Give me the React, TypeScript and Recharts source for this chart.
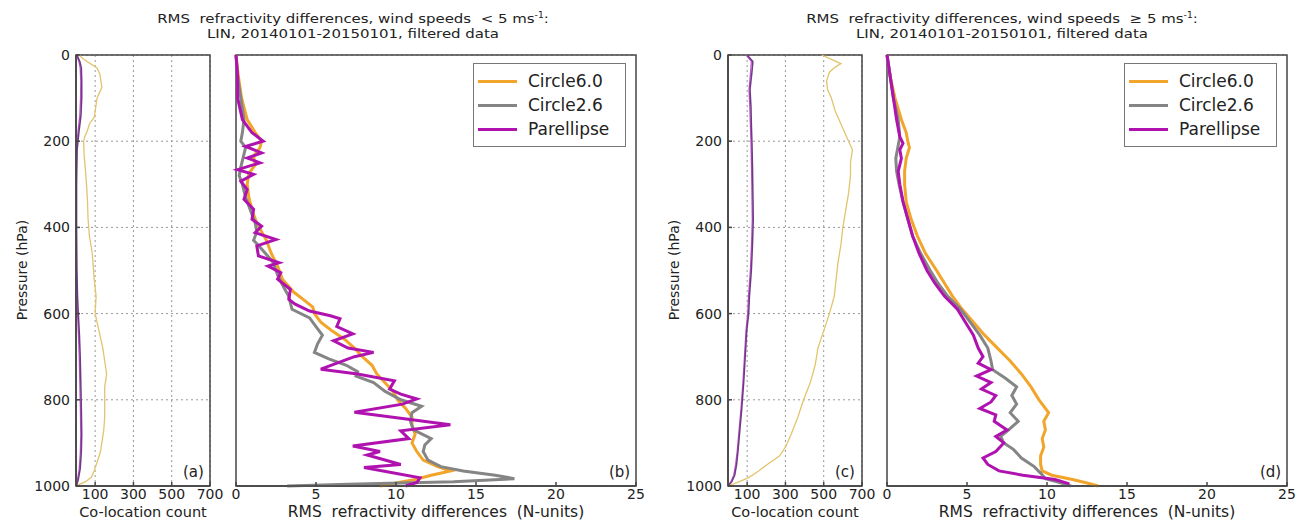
import { CartesianGrid, Line, LineChart, ReferenceArea, XAxis, YAxis } from "recharts";

type Pt = [number, number]; // [pressure hPa, value]

const pressureTicks = [0, 200, 400, 600, 800, 1000];
const countTicks = [100, 300, 500, 700];
const rmsTicks = [0, 5, 10, 15, 20, 25];
const seriesNames = ["Circle6.0", "Circle2.6", "Parellipse"];

// (a) co-location counts, wind < 5
const countLowAll: Pt[] = [
  [0, 15], [10, 40], [20, 75], [30, 110], [45, 125], [60, 130], [75, 135], [85, 125], [100, 110],
  [115, 105], [130, 100], [145, 95], [160, 70], [175, 60], [190, 45], [200, 40], [230, 42], [260, 48],
  [300, 55], [340, 60], [380, 63], [420, 70], [460, 85], [490, 90], [520, 95], [560, 105], [600, 100],
  [640, 120], [680, 140], [710, 150], [740, 160], [770, 150], [800, 150], [840, 150], [870, 145],
  [900, 135], [920, 128], [945, 110], [965, 95], [980, 80], [990, 50], [997, 15], [1000, 0],
];
const countLowDark: Pt[] = [
  [0, 5], [15, 20], [30, 28], [60, 30], [100, 30], [140, 26], [180, 15], [220, 6], [300, 3], [400, 3],
  [500, 5], [560, 8], [600, 12], [650, 18], [700, 22], [760, 25], [820, 28], [880, 30], [920, 28],
  [960, 22], [985, 12], [1000, 2],
];
const countLowPar: Pt[] = [
  [0, 3], [15, 15], [30, 22], [60, 25], [100, 24], [140, 20], [180, 10], [220, 3], [300, 1], [400, 1],
  [500, 2], [560, 5], [600, 8], [650, 13], [700, 17], [760, 20], [820, 23], [880, 25], [920, 23],
  [960, 17], [985, 8], [1000, 1],
];

// (c) co-location counts, wind >= 5
const countHighAll: Pt[] = [
  [0, 490], [10, 540], [20, 590], [28, 560], [40, 530], [60, 515], [80, 520], [100, 540], [130, 560],
  [160, 590], [190, 620], [220, 650], [250, 640], [280, 640], [320, 630], [360, 615], [400, 600],
  [440, 590], [480, 575], [520, 565], [560, 555], [600, 530], [640, 500], [680, 470], [720, 455],
  [760, 430], [800, 395], [840, 365], [880, 330], [910, 300], [930, 270], [950, 205], [965, 160],
  [980, 110], [990, 60], [1000, 0],
];
const countHighDark: Pt[] = [
  [0, 100], [15, 130], [40, 125], [80, 115], [120, 120], [160, 122], [200, 125], [260, 128], [320, 130],
  [380, 132], [440, 128], [500, 122], [560, 112], [600, 108], [640, 98], [700, 90], [760, 82],
  [820, 72], [880, 60], [920, 52], [950, 45], [975, 35], [990, 20], [1000, 0],
];
const countHighPar: Pt[] = [
  [0, 95], [15, 122], [40, 118], [80, 110], [120, 114], [160, 117], [200, 120], [260, 123], [320, 125],
  [380, 127], [440, 123], [500, 117], [560, 107], [600, 103], [640, 94], [700, 86], [760, 78],
  [820, 68], [880, 56], [920, 48], [950, 40], [975, 30], [990, 15], [1000, 0],
];

// (b) RMS differences, wind < 5
const circle60Low: Pt[] = [
  [0, 0], [50, 0.15], [100, 0.35], [150, 0.7], [180, 1.2], [200, 1.6], [215, 1.5], [235, 1.1], [255, 1.2],
  [275, 0.8], [300, 0.7], [330, 0.8], [360, 1.0], [390, 1.3], [410, 1.6], [430, 1.9], [460, 2.2],
  [490, 2.6], [520, 2.9], [550, 3.6], [570, 4.3], [585, 4.8], [600, 4.9], [620, 5.3], [640, 6.0],
  [660, 6.8], [680, 7.4], [700, 7.9], [720, 8.5], [740, 8.8], [760, 9.3], [780, 9.8], [800, 10.1],
  [820, 10.6], [840, 11.0], [860, 11.0], [880, 11.2], [900, 11.0], [920, 11.3], [940, 11.7],
  [955, 12.6], [965, 13.4], [975, 12.2], [985, 11.2], [993, 10.0], [1000, 9.0],
];
const circle26Low: Pt[] = [
  [0, 0], [50, 0.1], [100, 0.3], [150, 0.5], [180, 0.4], [200, 0.3], [215, 0.6], [230, 0.5], [260, 0.3],
  [280, 0.2], [300, 0.4], [330, 0.6], [360, 0.9], [390, 1.2], [410, 1.3], [430, 1.1], [450, 1.6],
  [480, 2.3], [510, 2.6], [540, 3.0], [560, 3.3], [590, 3.5], [610, 4.6], [630, 5.0], [650, 5.4],
  [670, 5.1], [690, 4.9], [705, 5.8], [720, 6.9], [735, 7.6], [745, 7.5], [760, 8.6], [780, 9.3],
  [800, 10.3], [815, 11.6], [830, 11.0], [850, 10.9], [870, 11.1], [890, 12.2], [905, 11.8],
  [920, 11.7], [940, 12.0], [955, 12.8], [965, 14.2], [975, 16.2], [983, 17.4], [990, 13.6],
  [996, 7.0], [1000, 3.2],
];
const parellipseLow: Pt[] = [
  [0, 0], [50, 0.1], [100, 0.1], [150, 0.4], [180, 1.0], [200, 1.7], [212, 0.6], [227, 1.6], [239, 0.7],
  [250, 1.5], [266, 0.1], [277, 1.1], [293, 0.3], [312, 0.7], [335, 0.5], [358, 1.1], [381, 1.0],
  [397, 1.6], [412, 1.2], [428, 2.5], [443, 1.3], [466, 1.4], [482, 2.7], [490, 2.0], [505, 2.8],
  [520, 2.6], [544, 3.4], [567, 3.3], [578, 3.7], [594, 4.6], [605, 5.9], [612, 6.5], [630, 6.3],
  [647, 7.3], [663, 6.1], [680, 7.0], [690, 8.6], [700, 7.4], [729, 5.3], [740, 7.6], [756, 9.9],
  [775, 9.6], [787, 10.3], [798, 11.3], [810, 10.4], [829, 7.4], [858, 13.4], [872, 10.3],
  [890, 10.8], [907, 7.3], [920, 9.0], [928, 8.2], [950, 10.3], [957, 8.0], [981, 11.5], [992, 11.3],
  [1000, 10.6],
];

// (d) RMS differences, wind >= 5
const circle60High: Pt[] = [
  [0, 0], [50, 0.2], [100, 0.5], [150, 0.9], [180, 1.2], [200, 1.3], [215, 1.4], [240, 1.2], [270, 1.1],
  [300, 1.1], [340, 1.2], [380, 1.5], [420, 1.9], [460, 2.4], [500, 3.1], [530, 3.6], [560, 4.1],
  [590, 4.7], [620, 5.4], [650, 6.1], [680, 6.9], [710, 7.7], [740, 8.4], [770, 9.0], [800, 9.5],
  [830, 10.1], [850, 9.8], [870, 9.9], [890, 9.7], [910, 9.8], [930, 9.6], [950, 9.6], [965, 9.7],
  [975, 10.3], [985, 11.6], [993, 12.5], [1000, 13.2],
];
const circle26High: Pt[] = [
  [0, 0], [50, 0.2], [100, 0.4], [150, 0.7], [190, 0.8], [210, 0.7], [240, 0.55], [270, 0.6], [300, 0.75],
  [340, 1.0], [380, 1.3], [420, 1.6], [460, 2.1], [500, 2.7], [530, 3.2], [560, 3.8], [590, 4.6],
  [620, 5.2], [650, 5.8], [680, 6.3], [710, 6.5], [730, 6.6], [750, 7.4], [770, 8.1], [790, 7.8],
  [810, 8.1], [830, 7.7], [850, 8.2], [870, 7.6], [885, 7.1], [900, 7.3], [915, 7.9], [935, 8.4],
  [955, 9.2], [970, 9.6], [983, 9.9], [992, 10.8], [1000, 11.5],
];
const parellipseHigh: Pt[] = [
  [0, 0], [50, 0.2], [100, 0.4], [150, 0.6], [190, 0.8], [205, 1.0], [220, 0.8], [240, 0.9], [270, 0.7],
  [300, 0.8], [340, 1.0], [380, 1.3], [420, 1.6], [460, 2.0], [500, 2.5], [530, 3.0], [560, 3.6],
  [590, 4.4], [620, 4.9], [650, 5.4], [680, 5.7], [700, 6.0], [715, 5.7], [730, 6.5], [745, 5.6],
  [760, 6.5], [775, 5.9], [790, 6.8], [805, 6.5], [820, 5.8], [835, 6.8], [850, 6.7], [870, 7.5],
  [885, 6.8], [900, 7.3], [920, 6.8], [935, 6.0], [950, 6.3], [965, 7.0], [975, 8.5], [985, 10.5],
  [995, 11.4],
];

const FONT = "'DejaVu Sans', sans-serif";
const ORANGE = "#F2A52A";
const GREY = "#858585";
const MAGENTA = "#B012B0";
const seriesColors = [ORANGE, GREY, MAGENTA];
const axisColor = "#444";

const toRows = (pts: Pt[]) => pts.map(([p, v]) => ({ p, v }));

const tickStyle = { fontSize: 14, fill: "#222", fontFamily: FONT };

function CountPanel({ left, all, dark, par, tag }: { left: number; all: Pt[]; dark: Pt[]; par: Pt[]; tag: string }) {
  return (
    <div style={{ position: "absolute", left, top: 0 }}>
      <LineChart width={228} height={525} layout="vertical" margin={{ top: 55, right: 18, bottom: 0, left: 0 }}>
        <CartesianGrid stroke="#999" strokeDasharray="2 3" />
        <XAxis type="number" dataKey="v" domain={[0, 700]} ticks={countTicks} height={39} tick={tickStyle}
          tickSize={-4} tickMargin={7} stroke={axisColor} strokeWidth={1.5}
          label={{ value: "Co-location count", position: "insideBottom", offset: 8, style: { fontSize: 14.5, fill: "#222", fontFamily: FONT } }} />
        <YAxis type="number" dataKey="p" domain={[0, 1000]} ticks={pressureTicks} width={76}
          tick={tickStyle} tickSize={-4} tickMargin={10} stroke={axisColor} strokeWidth={1.5} />
        <ReferenceArea x1={0} x2={700} y1={0} y2={1000} fill="none" stroke={axisColor} strokeWidth={1.5} />
        <Line data={toRows(all)} dataKey="v" stroke="#E2C46E" strokeWidth={1.3} dot={false} isAnimationActive={false} />
        <Line data={toRows(par)} dataKey="v" stroke="#C050C8" strokeWidth={1.3} dot={false} isAnimationActive={false} />
        <Line data={toRows(dark)} dataKey="v" stroke="#6E3A86" strokeWidth={1.5} dot={false} isAnimationActive={false} />
      </LineChart>
      <div style={{ position: "absolute", left: 183, top: 463, fontSize: 15, fontFamily: FONT, color: "#222" }}>{tag}</div>
      <div style={{ position: "absolute", left: 22, top: 270, transform: "translate(-50%, -50%) rotate(-90deg)",
        whiteSpace: "nowrap", fontSize: 14, fontFamily: FONT, color: "#222" }}>Pressure (hPa)</div>
    </div>
  );
}

function LegendBox({ left }: { left: number }) {
  return (
    <div style={{ position: "absolute", left, top: 63, width: 137, border: "1.5px solid #777", background: "#fff",
      padding: "5px 10px 5px 4px", fontFamily: FONT, fontSize: 17, color: "#222" }}>
      {seriesNames.map((name, i) => (
        <div key={name} style={{ display: "flex", alignItems: "center", height: 24 }}>
          <span style={{ display: "inline-block", width: 39, height: 3, background: seriesColors[i], marginRight: 11 }} />
          <span>{name}</span>
        </div>
      ))}
    </div>
  );
}

function RmsPanel({ left, c60, c26, par, tag }: { left: number; c60: Pt[]; c26: Pt[]; par: Pt[]; tag: string }) {
  const series = [c60, c26, par];
  return (
    <div style={{ position: "absolute", left, top: 0 }}>
      <LineChart width={425} height={525} layout="vertical" margin={{ top: 55, right: 15, bottom: 0, left: 10 }}>
        <CartesianGrid stroke="#999" strokeDasharray="2 3" vertical={false} />
        <XAxis type="number" dataKey="v" domain={[0, 25]} ticks={rmsTicks} height={39} tick={tickStyle}
          tickSize={-4} tickMargin={7} stroke={axisColor} strokeWidth={1.5}
          label={{ value: "RMS\u00a0 refractivity differences\u00a0 (N-units)", position: "insideBottom", offset: 8,
            style: { fontSize: 15.5, fill: "#222", fontFamily: FONT } }} />
        <YAxis type="number" dataKey="p" domain={[0, 1000]} ticks={pressureTicks} width={0}
          tick={false} tickSize={-4} stroke={axisColor} strokeWidth={1.5} />
        <ReferenceArea x1={0} x2={25} y1={0} y2={1000} fill="none" stroke={axisColor} strokeWidth={1.5} />
        {series.map((pts, i) => (
          <Line key={seriesNames[i]} name={seriesNames[i]} data={toRows(pts)} dataKey="v" stroke={seriesColors[i]}
            strokeWidth={3} dot={false} isAnimationActive={false} />
        ))}
      </LineChart>
      <LegendBox left={247} />
      <div style={{ position: "absolute", left: 383, top: 463, fontSize: 15, fontFamily: FONT, color: "#222" }}>{tag}</div>
    </div>
  );
}

function Title({ cx, op }: { cx: number; op: string }) {
  return (
    <div style={{ position: "absolute", left: cx, top: 12, transform: "translateX(-50%) scaleX(1.15)", textAlign: "center",
      whiteSpace: "pre", fontFamily: FONT, fontSize: 13, lineHeight: "14.5px", color: "#222" }}>
      <div>RMS  refractivity differences, wind speeds  {op} 5 ms<sup style={{ fontSize: 8, lineHeight: 0 }}>-1</sup>:</div>
      <div>LIN, 20140101-20150101, filtered data</div>
    </div>
  );
}

export default function App() {
  return (
    <div style={{ position: "absolute", left: 0, top: 0, width: 1299, height: 525, background: "#fff", overflow: "hidden" }}>
      <Title cx={353} op="<" />
      <Title cx={1002} op="≥" />
      <CountPanel left={0} all={countLowAll} dark={countLowDark} par={countLowPar} tag="(a)" />
      <RmsPanel left={226} c60={circle60Low} c26={circle26Low} par={parellipseLow} tag="(b)" />
      <CountPanel left={652} all={countHighAll} dark={countHighDark} par={countHighPar} tag="(c)" />
      <RmsPanel left={877} c60={circle60High} c26={circle26High} par={parellipseHigh} tag="(d)" />
    </div>
  );
}
